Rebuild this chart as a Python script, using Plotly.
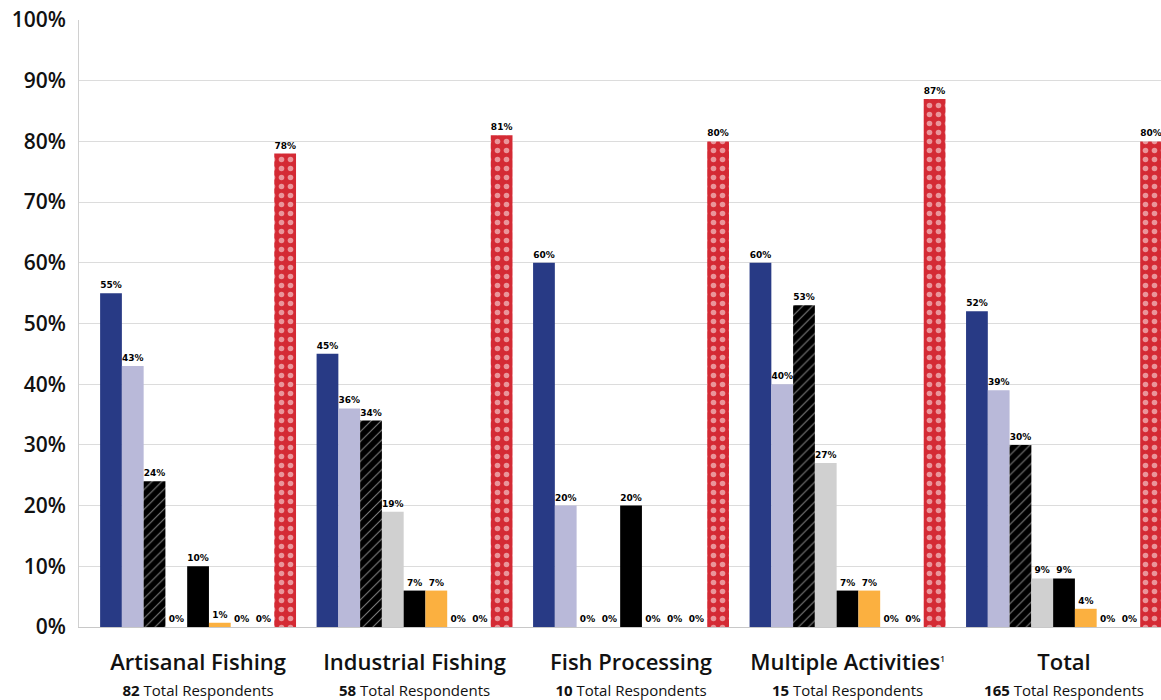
import plotly.graph_objects as go

categories = ["Artisanal Fishing", "Industrial Fishing", "Fish Processing", "Multiple Activities", "Total"]
respondents = [82, 58, 10, 15, 165]
superscripts = ["", "", "", "1", ""]

# bar heights (as drawn) and printed labels, one list per series
s1_heights = [55, 45, 60, 60, 52]
s1_labels = ["55%", "45%", "60%", "60%", "52%"]
s2_heights = [43, 36, 20, 40, 39]
s2_labels = ["43%", "36%", "20%", "40%", "39%"]
s3_heights = [24, 34, 0, 53, 30]
s3_labels = ["24%", "34%", "0%", "53%", "30%"]
s4_heights = [0, 19, 0, 27, 8]
s4_labels = ["0%", "19%", "0%", "27%", "9%"]
s5_heights = [10, 6, 20, 6, 8]
s5_labels = ["10%", "7%", "20%", "7%", "9%"]
s6_heights = [0.7, 6, 0, 6, 3]
s6_labels = ["1%", "7%", "0%", "7%", "4%"]
s7_heights = [0, 0, 0, 0, 0]
s7_labels = ["0%", "0%", "0%", "0%", "0%"]
s8_heights = [0, 0, 0, 0, 0]
s8_labels = ["0%", "0%", "0%", "0%", "0%"]
s9_heights = [78, 81, 80, 87, 80]
s9_labels = ["78%", "81%", "80%", "87%", "80%"]

y_ticks = list(range(0, 101, 10))
y_tick_text = [f"{v}%" for v in y_ticks]


def make_tick(c, n, s):
    title = f"<span style='font-size:22px'>{c}</span>"
    if s:
        title += f"<sup><span style='font-size:8px'>{s}</span></sup>"
    sub = f"<span style='font-size:15px;font-weight:400'><b>{n}</b> Total Respondents</span>"
    return title + "<br>" + sub


tick_text = [make_tick(c, n, s) for c, n, s in zip(categories, respondents, superscripts)]

series = [
    (s1_heights, s1_labels, dict(color="#283a85")),
    (s2_heights, s2_labels, dict(color="#b9b9d9")),
    (s3_heights, s3_labels, dict(color="#000000",
                                 pattern=dict(shape="/", fgcolor="#ffffff", bgcolor="#000000",
                                              size=7, solidity=0.15))),
    (s4_heights, s4_labels, dict(color="#d0d0d0")),
    (s5_heights, s5_labels, dict(color="#000000")),
    (s6_heights, s6_labels, dict(color="#fbb040")),
    (s7_heights, s7_labels, dict(color="#6aa7c9")),
    (s8_heights, s8_labels, dict(color="#7a4f9a")),
    (s9_heights, s9_labels, dict(color="#d42a34",
                                 pattern=dict(shape=".", fgcolor="#ffffff", bgcolor="#d42a34",
                                              size=9, solidity=0.3))),
]

fig = go.Figure()
for h, lab, mk in series:
    mk = dict(mk)
    mk["line"] = dict(width=0)
    fig.add_trace(go.Bar(
        x=categories, y=h, text=lab, textposition="outside",
        textfont=dict(family="DejaVu Sans", size=9, color="#000000", weight="bold"),
        constraintext="none", cliponaxis=False, marker=mk, showlegend=False,
        hoverinfo="skip",
    ))

fig.update_layout(
    width=1161, height=700,
    margin=dict(l=79, r=0, t=20, b=73),
    barmode="group", bargap=0.095, bargroupgap=0,
    plot_bgcolor="#ffffff", paper_bgcolor="#ffffff",
    showlegend=False,
)
fig.update_yaxes(
    range=[0, 100], tickvals=y_ticks, ticktext=y_tick_text,
    tickfont=dict(family="Open Sans", size=21, color="#111111", weight=600),
    showgrid=True, gridcolor="#dcdcdc", gridwidth=1,
    showline=True, linecolor="#d0d0d0", linewidth=1,
    zeroline=False, ticks="", ticklabelstandoff=8, automargin=False,
)
fig.update_xaxes(
    range=[-0.55, 4.448], tickvals=categories, ticktext=tick_text,
    tickfont=dict(family="Open Sans", size=20, color="#111111", weight=600),
    showline=True, linecolor="#c8c8c8", linewidth=1,
    ticks="", ticklabelstandoff=18, automargin=False,
)

fig.write_html("out.html")
